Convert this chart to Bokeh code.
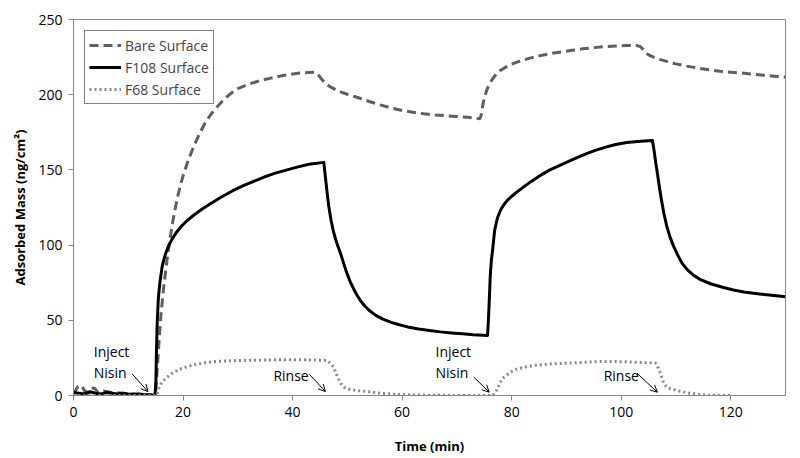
from bokeh.plotting import figure
from bokeh.models import Range1d, Legend, LegendItem, Arrow, OpenHead, Label, FixedTicker
from bokeh.embed import file_html
from bokeh.resources import INLINE

# ---- data ----
bare_t = [0, 0.8, 1.5, 2.2, 3.0, 3.8, 4.5, 5.5, 7, 9, 11, 13, 14.8,
          15.0, 15.3, 15.6, 16, 16.5, 17, 17.5, 18, 18.5, 19, 19.5, 20, 21, 22, 23, 24, 25, 26, 27, 28, 29, 30,
          32, 34, 36, 38, 40, 42, 44, 44.5, 45, 45.5, 46.2, 47, 48, 49, 50, 52, 54, 56, 58, 60, 62, 64,
          66, 68, 70, 72, 73.5, 74.2, 74.4, 74.6, 74.8, 75.1, 75.5, 76, 76.6, 77.3, 78, 79, 80, 81.5,
          83, 85, 87, 89, 91, 93, 95, 97, 99, 101, 102.8, 103.5, 104, 104.5, 105, 106, 107, 108.5,
          110, 112, 114, 116, 118, 120, 122, 124, 126, 128, 130]
bare_v = [1, 6, 6.5, 2, 4.5, 5, 2, 3, 2, 1.5, 1, 0.5, 0,
          2, 18, 35, 55, 73, 88, 101, 113, 123, 132, 139.5, 146, 157, 166, 174, 181, 186.5, 191, 195, 198.5, 201.5, 204,
          207, 209.3, 211, 212.6, 213.8, 214.6, 215, 214, 211.8, 209.5, 207, 205, 203, 201.5, 200.3, 198, 195.5, 193.2, 191.2, 189.5, 188.3, 187.3,
          186.5, 186, 185.5, 185, 184.3, 184, 186, 190, 194.5, 199, 203.5, 207.5, 211, 214, 216.3, 218.5, 220.3, 222.3,
          224, 225.8, 227.3, 228.4, 229.5, 230.5, 231.3, 232, 232.4, 232.7, 232.7, 232, 230, 228, 226.5, 224.8, 223.5, 222,
          220.5, 219, 217.7, 216.6, 215.6, 215, 214.4, 213.7, 213, 212.3, 211.6]

f108_t = [0, 1, 2, 3, 4, 5, 6, 7, 8, 9, 10, 11, 12, 13, 14, 14.9,
          15.05, 15.15, 15.3, 15.5, 15.8, 16.2, 16.7, 17.3, 18, 18.8, 19.7, 20.8, 22, 23.5, 25, 27, 29, 31,
          33, 35, 37, 39, 41, 43, 45.7,
          46.0, 46.3, 46.6, 47.0, 47.4, 47.8, 48.2, 48.8, 49.4, 50, 50.6, 51.2, 51.8, 52.5, 53.3, 54.2,
          55.2, 56.5, 58, 59.5, 61, 63, 65, 67, 69, 71, 73, 75.6,
          75.75, 75.9, 76.1, 76.3, 76.5, 76.9, 77.4, 78, 78.6, 79.2, 80.2, 81.2, 82.2, 83.5, 85.3, 87,
          89, 91, 93, 95, 97, 99, 101, 103.5, 105.7,
          106.0, 106.3, 106.6, 107.0, 107.4, 107.8, 108.3, 108.9, 109.6, 110.3, 111.1, 112.1, 113.2,
          114.5, 116.3, 118.5, 120.5, 122.4, 124.5, 127, 130]
f108_v = [2, 1.5, 1, 2.5, 1.5, 1, 2, 1.5, 1, 1.5, 1, 0.8, 1, 0.5, 0.5, 0,
          10, 30, 50, 65, 76, 86, 93, 99, 104, 108.5, 112.5, 116.5, 120, 124, 127.5, 132, 136, 139.5,
          142.5, 145.5, 148, 150, 152, 153.8, 155,
          145, 135, 126, 117, 110, 104.5, 100, 94, 87, 80.5, 75, 70.5, 66.5, 62.5, 59, 56,
          53.3, 50.8, 48.6, 47, 45.6, 44.2, 43.2, 42.3, 41.6, 41, 40.4, 39.9,
          50, 62, 80, 90, 96, 110, 118, 123.5, 127, 129.7, 133, 136, 138.7, 142.2, 146.5, 150,
          153.4, 156.6, 159.8, 162.6, 165, 166.9, 168.2, 169, 169.5,
          163, 155, 148, 138, 129, 121, 113, 105.5, 99, 93.5, 88, 83.5, 80,
          77, 74.3, 72, 70.2, 68.8, 67.8, 66.8, 65.6]

f68_t = [0, 5, 10, 15.2, 15.4, 15.7, 16.1, 16.6, 17.2, 18, 19, 20, 21, 22.5, 24, 26, 28, 30.5, 36.6, 42.7, 46.3,
         46.9, 47.5, 48.2, 48.8, 49.4, 50.5, 51.8, 54, 56, 58, 60, 65, 70, 76.5,
         77.1, 77.6, 78.1, 78.6, 79.8, 81, 82.5, 84.1, 87, 90.2, 93, 96.3, 99, 102.3, 106.3,
         106.8, 107.2, 107.8, 108.5, 110.3, 112, 114.5, 116, 118, 120]
f68_v = [0, 0, 0, 0, 3, 6, 8.5, 10.5, 12.5, 14.8, 16.8, 18.3, 19.5, 20.8, 21.8, 22.6, 23, 23.3, 23.7, 23.7, 23.3,
         21.5, 18.8, 12.2, 8, 5.5, 4, 3.3, 2.5, 1.5, 1, 0.5, 0.2, 0, 0,
         2.2, 6, 10, 12.2, 15.5, 17.7, 19, 20, 21, 21.5, 22, 22.6, 22.6, 22.2, 21.5,
         18, 14.4, 7.8, 5, 3.3, 1.8, 0.7, 0.2, 0, 0]

x_ticks = [0, 20, 40, 60, 80, 100, 120]
y_ticks = [0, 50, 100, 150, 200, 250]

series_names = ["Bare Surface", "F108 Surface", "F68 Surface"]

inject_x = [3.7, 66.1]
rinse_x = [36.5, 96.8]
arrows = [(10.7, 14.4, 13.6, 2.6), (73.1, 12.2, 75.9, 2.2),
          (43.0, 14.4, 46.0, 2.6), (102.9, 14.8, 106.6, 2.2)]

FONT = "Open Sans"
GRAY_AXIS = "#868686"

p = figure(width=800, height=458, output_backend="svg", toolbar_location=None,
           x_range=Range1d(0, 130), y_range=Range1d(0, 250),
           min_border_left=73, min_border_right=15, min_border_top=19, min_border_bottom=63)

p.xgrid.visible = False
p.ygrid.visible = False
p.outline_line_color = GRAY_AXIS
p.outline_line_width = 1
p.background_fill_color = "white"
p.border_fill_color = "white"

r_bare = p.line(bare_t, bare_v, line_color="#5f5f5f", line_width=3, line_dash="9 5")
r_f108 = p.line(f108_t, f108_v, line_color="black", line_width=3, line_join="round")
r_f68 = p.line(f68_t, f68_v, line_color="#888888", line_width=3, line_dash="2 3")

for ax in (p.xaxis[0], p.yaxis[0]):
    ax.axis_line_color = GRAY_AXIS
    ax.major_tick_line_color = GRAY_AXIS
    ax.minor_tick_line_color = None
    ax.major_tick_in = 0
    ax.major_tick_out = 5
    ax.major_label_text_font = FONT
    ax.major_label_text_font_size = "14px"
    ax.major_label_text_color = "black"
    ax.axis_label_text_font = FONT
    ax.axis_label_text_font_size = "13px"
    ax.axis_label_text_font_style = "bold"
    ax.axis_label_text_color = "black"

p.xaxis[0].ticker = FixedTicker(ticks=x_ticks)
p.yaxis[0].ticker = FixedTicker(ticks=y_ticks)
p.xaxis[0].axis_label = "Time (min)"
p.yaxis[0].axis_label = "Adsorbed Mass (ng/cm²)"
p.xaxis[0].major_label_standoff = 6
p.xaxis[0].axis_label_standoff = 17
p.yaxis[0].major_label_standoff = 6
p.yaxis[0].axis_label_standoff = 6

legend = Legend(items=[LegendItem(label=series_names[0], renderers=[r_bare]),
                       LegendItem(label=series_names[1], renderers=[r_f108]),
                       LegendItem(label=series_names[2], renderers=[r_f68])],
                location="top_left")
legend.margin = 11
legend.padding = 4
legend.spacing = 2
legend.glyph_width = 32
legend.label_height = 20
legend.glyph_height = 20
legend.label_standoff = 4
legend.label_text_font = FONT
legend.label_text_font_size = "14px"
legend.border_line_color = "black"
legend.border_line_width = 1
p.add_layout(legend)

for x in inject_x:
    p.add_layout(Label(x=x, y=29.5, text="Inject", text_font=FONT, text_font_size="14px",
                       text_baseline="middle", text_align="left", text_color="black"))
    p.add_layout(Label(x=x, y=15.3, text="Nisin", text_font=FONT, text_font_size="14px",
                       text_baseline="middle", text_align="left", text_color="black"))
for x in rinse_x:
    p.add_layout(Label(x=x, y=13.5, text="Rinse", text_font=FONT, text_font_size="14px",
                       text_baseline="middle", text_align="left", text_color="black"))
for (x0, y0, x1, y1) in arrows:
    p.add_layout(Arrow(x_start=x0, y_start=y0, x_end=x1, y_end=y1, line_width=1, line_color="black",
                       end=OpenHead(size=7, line_width=1, line_color="black")))

open("out.html", "w").write(file_html(p, INLINE))
